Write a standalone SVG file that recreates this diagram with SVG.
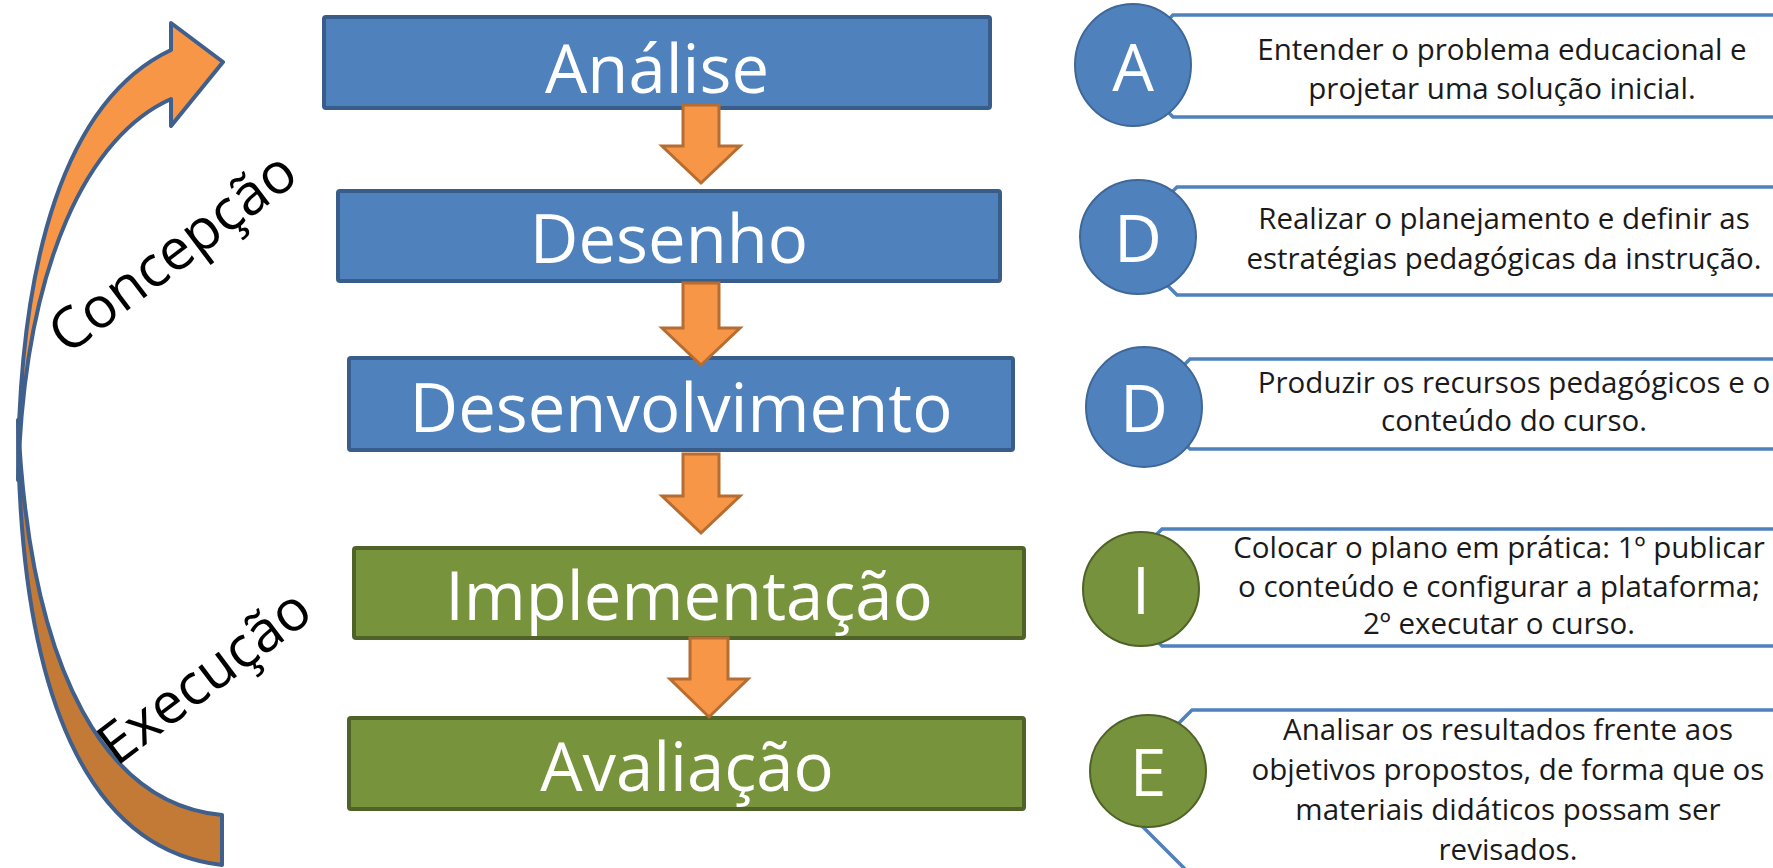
<svg xmlns="http://www.w3.org/2000/svg" width="1773" height="868" viewBox="0 0 1773 868">
  <style>
    .blue { fill: #4F81BD; stroke: #385D8A; stroke-width: 4; }
    .green { fill: #77933C; stroke: #4F6228; stroke-width: 4; }
    .ttl { font-family: "Open Sans", "Noto Sans", sans-serif; font-size: 67px; fill: #FFFFFF; text-anchor: middle; }
    .down { fill: #F79646; stroke: #B66D31; stroke-width: 3; stroke-linejoin: miter; }
    .callout { fill: #FFFFFF; stroke: #4F81BD; stroke-width: 3.5; }
    .cblue { fill: #4F81BD; stroke: #3F6797; stroke-width: 2; }
    .cgreen { fill: #76923C; stroke: #4F6228; stroke-width: 2; }
    .letter { font-family: "Open Sans", "Noto Sans", sans-serif; font-size: 66px; fill: #FFFFFF; text-anchor: middle; }
    .desc { font-family: "Open Sans", "Noto Sans", sans-serif; font-size: 29.5px; fill: #1A1A1A; text-anchor: middle; }
    .phase { font-family: "Open Sans", "Noto Sans", sans-serif; font-size: 57px; fill: #000000; text-anchor: middle; }
    .cyc { stroke: #3F5F8C; stroke-width: 4; stroke-linejoin: round; }
  </style>
  <rect x="0" y="0" width="1773" height="868" fill="#FFFFFF"/>

  <g id="cycle-arrow">
    <path class="cyc" fill="#C47A37" d="M18,420 C18,700 90,850 222,865 L222,815 C110,805 30,680 18,420 Z"/>
    <path class="cyc" fill="#F79646" d="M18,480 C18,260 65,100 171,50 L171,23 L223,62 L171,126 L171,99 C90,135 24,260 18,480 Z"/>
  </g>
  <g id="label-concepcao">
    <text class="phase" transform="translate(184,268) rotate(-37)">Concepção</text>
  </g>
  <g id="label-execucao">
    <text class="phase" transform="translate(216,692) rotate(-37)">Execução</text>
  </g>

  <g id="node-analise">
    <rect class="blue" x="324" y="17" width="666" height="91" rx="2"/>
    <text class="ttl" x="657" y="93">Análise</text>
  </g>
  <g id="node-desenho">
    <rect class="blue" x="338" y="191" width="662" height="90" rx="2"/>
    <text class="ttl" x="669" y="263">Desenho</text>
  </g>
  <g id="node-desenvolvimento">
    <rect class="blue" x="349" y="358" width="664" height="92" rx="2"/>
    <text class="ttl" x="681" y="432">Desenvolvimento</text>
  </g>
  <g id="node-implementacao">
    <rect class="green" x="354" y="548" width="670" height="90" rx="2"/>
    <text class="ttl" x="689" y="620">Implementação</text>
  </g>
  <g id="node-avaliacao">
    <rect class="green" x="349" y="718" width="675" height="91" rx="2"/>
    <text class="ttl" x="687" y="791">Avaliação</text>
  </g>

  <g id="connectors">
    <path class="down" d="M683,105 L719,105 L719,146 L740,146 L701,183 L662,146 L683,146 Z"/>
    <path class="down" d="M683,283 L719,283 L719,328 L740,328 L701,365 L662,328 L683,328 Z"/>
    <path class="down" d="M683,454 L719,454 L719,496 L740,496 L701,533 L662,496 L683,496 Z"/>
    <path class="down" d="M690,638 L728,638 L728,679 L748,679 L709,717 L670,679 L690,679 Z"/>
  </g>

  <g id="callout-a">
    <path class="callout" d="M1790,15 L1173,15 L1122,66 L1173,117 L1790,117"/>
    <ellipse class="cblue" cx="1133" cy="65" rx="58" ry="61"/>
    <text class="letter" x="1133" y="91">A</text>
    <text class="desc" x="1502" y="60">Entender o problema educacional e</text>
    <text class="desc" x="1502" y="99">projetar uma solução inicial.</text>
  </g>
  <g id="callout-d1">
    <path class="callout" d="M1790,187 L1177,187 L1123,241 L1177,295 L1790,295"/>
    <ellipse class="cblue" cx="1138" cy="237" rx="58" ry="57"/>
    <text class="letter" x="1138" y="262">D</text>
    <text class="desc" x="1504" y="229">Realizar o planejamento e definir as</text>
    <text class="desc" x="1504" y="269">estratégias pedagógicas da instrução.</text>
  </g>
  <g id="callout-d2">
    <path class="callout" d="M1790,359 L1190,359 L1145,404 L1190,449 L1790,449"/>
    <ellipse class="cblue" cx="1144" cy="407" rx="58" ry="60"/>
    <text class="letter" x="1144" y="432">D</text>
    <text class="desc" x="1514" y="393">Produzir os recursos pedagógicos e o</text>
    <text class="desc" x="1514" y="431">conteúdo do curso.</text>
  </g>
  <g id="callout-i">
    <path class="callout" d="M1790,529 L1162,529 L1104,587 L1162,646 L1790,646"/>
    <ellipse class="cgreen" cx="1141" cy="589" rx="58" ry="57"/>
    <text class="letter" x="1141" y="614">I</text>
    <text class="desc" x="1499" y="558">Colocar o plano em prática: 1º publicar</text>
    <text class="desc" x="1499" y="597">o conteúdo e configurar a plataforma;</text>
    <text class="desc" x="1499" y="634">2º executar o curso.</text>
  </g>
  <g id="callout-e">
    <path class="callout" d="M1790,710 L1192,710 L1109,793 L1192,876 L1790,876"/>
    <ellipse class="cgreen" cx="1148" cy="771" rx="58" ry="56"/>
    <text class="letter" x="1148" y="796">E</text>
    <text class="desc" x="1508" y="740">Analisar os resultados frente aos</text>
    <text class="desc" x="1508" y="780">objetivos propostos, de forma que os</text>
    <text class="desc" x="1508" y="820">materiais didáticos possam ser</text>
    <text class="desc" x="1508" y="860">revisados.</text>
  </g>
</svg>
